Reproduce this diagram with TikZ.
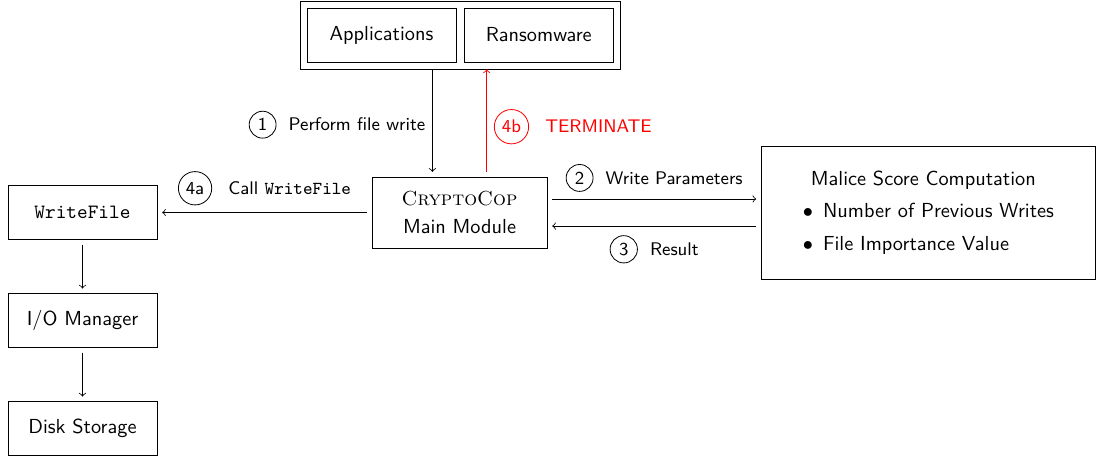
\documentclass[tikz,border=0pt]{standalone}
\usepackage{fontspec}
\renewcommand{\familydefault}{\sfdefault}
\usetikzlibrary{positioning, fit}
\newcommand{\numc}[1]{\tikz[baseline=(num.base)]\node[circle, draw, inner sep=2pt] (num) {#1};}

\begin{document}
\begin{tikzpicture}[>=to,
    box/.style={draw, minimum width=2.58cm, minimum height=0.934cm, outer sep=2.5pt},
    lbl/.style={font=\small}]
    \useasboundingbox (0,0) rectangle (18.96,-7.907);

    % Callers on top
    \node[box, outer sep=0pt] (apps) at (6.60,-0.606) {Applications};
    \node[box, outer sep=0pt, right=0.14cm of apps] (ransom) {Ransomware};
    \node[draw, fit=(apps)(ransom), inner sep=3.4pt] (top) {};

    % Main module and score box
    \node[box, minimum width=3.03cm, minimum height=1.23cm, align=center] (main) at (7.95,-3.676) {\textrm{\textsc{CryptoCop}}\\[2pt]Main Module};
    \node[box, minimum width=5.78cm, minimum height=2.30cm, align=left] (malice) at (16.06,-3.676) {\hspace*{4pt}Malice Score Computation\\[4pt]$\bullet$\hspace{5pt}Number of Previous Writes\\[4pt]$\bullet$\hspace{5pt}File Importance Value};

    % Write path on the left
    \node[box] (wfile) at (1.427,-3.676) {\texttt{WriteFile}};
    \node[box, below=0.76cm of wfile] (iomgr) {I/O Manager};
    \node[box, below=0.76cm of iomgr] (disk) {Disk Storage};

    % Arrows
    \draw[->] ([xshift=-0.47cm]main.north |- top.south) -- node[lbl, left, yshift=-2pt] {\numc{1}\hspace{6pt}Perform file write} ([xshift=-0.47cm]main.north);
    \draw[->, red] ([xshift=0.47cm]main.north) -- node[lbl, right, yshift=-3pt] {\numc{4b}\hspace{8pt}TERMINATE} ([xshift=0.47cm]main.north |- top.south);
    \draw[->] ([yshift=0.234cm]main.east) -- node[lbl, above] {\numc{2}\hspace{6pt}Write Parameters} ([yshift=0.234cm]malice.west);
    \draw[->] ([yshift=-0.234cm]malice.west) -- node[lbl, below, yshift=-1pt] {\numc{3}\hspace{6pt}Result} ([yshift=-0.234cm]main.east);
    \draw[->] (main.west) -- node[lbl, above] {\numc{4a}\hspace{8pt}Call \texttt{WriteFile}} (wfile.east);
    \draw[->] (wfile) -- (iomgr);
    \draw[->] (iomgr) -- (disk);
\end{tikzpicture}
\end{document}
